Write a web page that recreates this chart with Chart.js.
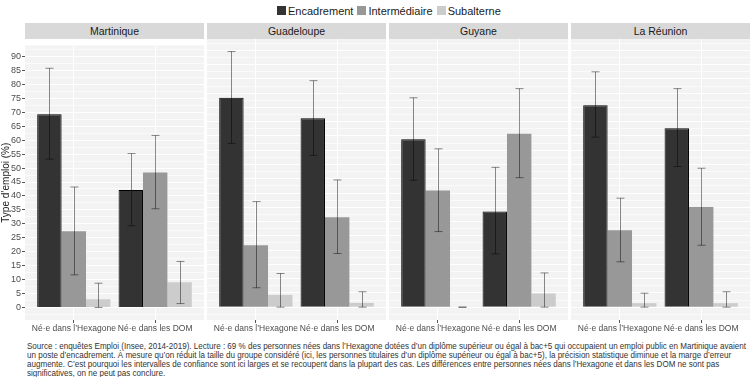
<!DOCTYPE html>
<html lang="fr">
<head>
<meta charset="utf-8">
<title>Type d'emploi</title>
<script src="https://cdn.jsdelivr.net/npm/chart.js@4.4.1/dist/chart.umd.min.js"></script>
<style>
body { margin:0; width:754px; height:377px; background:#fff; position:relative; overflow:hidden;
       font-family:"Liberation Sans", Arial, sans-serif; }
.legend { position:absolute; top:5px; left:277px; display:flex; font-size:11px; color:#1a1a1a; line-height:12px; }
.legend span.box { display:inline-block; width:9px; height:9px; margin:1px 2px 0 0; }
.legend .item { display:flex; margin-right:4px; }
.strip { position:absolute; top:23px; height:16px; width:179px; background:#d9d9d9; text-align:center;
         font-size:10.5px; line-height:16px; color:#1a1a1a; }
.panel { position:absolute; top:39px; height:296px; }
.caption { position:absolute; left:27px; top:342px; font-family:"Liberation Sans Narrow", "Liberation Sans", Arial, sans-serif;
           font-size:8.6px; line-height:9.1px; color:#333; white-space:nowrap; transform-origin:0 0; }
</style>
</head>
<body>
<div class="legend" id="legend"></div>
<div id="strips"></div>
<div id="panels"></div>
<div class="caption" id="caption">Source : enquêtes Emploi (Insee, 2014-2019). Lecture : 69 % des personnes nées dans l’Hexagone dotées d’un diplôme supérieur ou égal à bac+5 qui occupaient un emploi public en Martinique avaient<br>un poste d’encadrement. À mesure qu’on réduit la taille du groupe considéré (ici, les personnes titulaires d’un diplôme supérieur ou égal à bac+5), la précision statistique diminue et la marge d’erreur<br>augmente. C’est pourquoi les intervalles de confiance sont ici larges et se recoupent dans la plupart des cas. Les différences entre personnes nées dans l’Hexagone et dans les DOM ne sont pas<br>significatives, on ne peut pas conclure.</div>
<script>
var regions = ['Martinique', 'Guadeloupe', 'Guyane', 'La Réunion'];
var categories = ['Né·e dans l’Hexagone', 'Né·e dans les DOM'];
var series = ['Encadrement', 'Intermédiaire', 'Subalterne'];
var yTicks = [0, 5, 10, 15, 20, 25, 30, 35, 40, 45, 50, 55, 60, 65, 70, 75, 80, 85, 90];

// order: Hexagone (Enc, Int, Sub), then DOM (Enc, Int, Sub)
var martiniqueVal  = [69.3, 27.3, 2.9, 42.1, 48.4, 9.0];
var martiniqueLow  = [53.2, 11.7, 0.0, 29.3, 35.4, 1.4];
var martiniqueHigh = [85.8, 43.2, 8.7, 55.2, 61.7, 16.5];

var guadeloupeVal  = [73.4, 21.7, 4.3, 66.2, 31.5, 1.5];
var guadeloupeLow  = [57.4, 6.8, 0.0, 53.2, 18.8, 0.0];
var guadeloupeHigh = [89.6, 37.0, 11.8, 79.4, 44.6, 5.4];

var guyaneVal  = [58.9, 40.9, 0.0, 33.5, 60.8, 4.8];
var guyaneLow  = [44.5, 26.5, 0.0, 18.7, 45.4, 0.0];
var guyaneHigh = [73.4, 55.5, 0.0, 49.0, 76.6, 12.0];

var reunionVal  = [70.8, 27.0, 1.4, 62.7, 35.1, 1.4];
var reunionLow  = [59.6, 15.9, 0.0, 49.3, 21.7, 0.0];
var reunionHigh = [82.5, 38.2, 4.9, 76.6, 48.7, 5.4];

var colors = ['#333333', '#989898', '#cccccc'];
var panelData = [
    [martiniqueVal, martiniqueLow, martiniqueHigh],
    [guadeloupeVal, guadeloupeLow, guadeloupeHigh],
    [guyaneVal, guyaneLow, guyaneHigh],
    [reunionVal, reunionLow, reunionHigh]
];
var panelLeft = [25, 207, 389, 571];

// legend
var legend = document.getElementById('legend');
series.forEach(function(s, i){
    var item = document.createElement('div');
    item.className = 'item';
    item.innerHTML = '<span class="box" style="background:' + colors[i] + '"></span>' + s;
    legend.appendChild(item);
});

// squeeze the caption to the width of the reference (narrow font)
var caption = document.getElementById('caption');
caption.style.transform = 'scaleX(' + (719 / caption.offsetWidth) + ')';

// panel background
var panelBg = {
    id: 'panelBg',
    beforeDraw: function(chart){
        var a = chart.chartArea, ctx = chart.ctx;
        ctx.save();
        ctx.fillStyle = '#f3f3f3';
        ctx.fillRect(a.left, a.top, a.right - a.left, a.bottom - a.top);
        ctx.restore();
    }
};

// error bars
var errorBars = {
    id: 'errorBars',
    afterDatasetsDraw: function(chart){
        var ctx = chart.ctx, y = chart.scales.y;
        ctx.save();
        ctx.strokeStyle = 'rgba(0,0,0,0.45)';
        ctx.lineWidth = 1;
        chart.data.datasets.forEach(function(ds, di){
            var meta = chart.getDatasetMeta(di);
            meta.data.forEach(function(bar, i){
                var lo = y.getPixelForValue(ds.low[i]);
                var hi = y.getPixelForValue(ds.high[i]);
                var x = Math.round(bar.x) + 0.5;
                ctx.beginPath();
                ctx.moveTo(x, lo); ctx.lineTo(x, hi);
                ctx.moveTo(x - 4, lo); ctx.lineTo(x + 4, lo);
                ctx.moveTo(x - 4, hi); ctx.lineTo(x + 4, hi);
                ctx.stroke();
            });
        });
        ctx.restore();
    }
};

var strips = document.getElementById('strips');
var panels = document.getElementById('panels');

regions.forEach(function(region, p){
    var strip = document.createElement('div');
    strip.className = 'strip';
    strip.style.left = panelLeft[p] + 'px';
    strip.textContent = region;
    strips.appendChild(strip);

    var first = p === 0;
    var left = first ? 0 : panelLeft[p];
    var width = first ? panelLeft[0] + 179 : 179;
    var box = document.createElement('div');
    box.className = 'panel';
    box.style.left = left + 'px';
    box.style.width = width + 'px';
    var canvas = document.createElement('canvas');
    canvas.width = width;
    canvas.height = 296;
    box.appendChild(canvas);
    panels.appendChild(box);

    var vals = panelData[p][0], lows = panelData[p][1], highs = panelData[p][2];
    var datasets = series.map(function(s, si){
        return {
            label: s,
            data: categories.map(function(c, ci){ return {x: ci + 1, y: vals[ci * 3 + si]}; }),
            low: categories.map(function(c, ci){ return lows[ci * 3 + si]; }),
            high: categories.map(function(c, ci){ return highs[ci * 3 + si]; }),
            backgroundColor: colors[si],
            borderColor: si === 0 ? '#000' : colors[si],
            borderWidth: si === 0 ? 1 : 0,
            barPercentage: 1,
            categoryPercentage: 0.9
        };
    });

    new Chart(canvas.getContext('2d'), {
        type: 'bar',
        data: { datasets: datasets },
        plugins: [panelBg, errorBars],
        options: {
            responsive: false,
            animation: false,
            layout: { padding: 0 },
            plugins: { legend: { display: false }, tooltip: { enabled: false } },
            scales: {
                x: {
                    type: 'linear',
                    min: 0.4, max: 2.6,
                    offset: false,
                    afterBuildTicks: function(s){ s.ticks = categories.map(function(c, i){ return {value: i + 1}; }); },
                    afterFit: function(s){ s.height = 15; },
                    ticks: {
                        callback: function(v){ return categories[v - 1]; },
                        font: { family: 'Liberation Sans', size: 8.5 },
                        color: '#4d4d4d',
                        padding: 1,
                        maxRotation: 0,
                        autoSkip: false
                    },
                    grid: { color: '#ffffff', lineWidth: 1, offset: false, tickLength: 3, tickColor: '#555' },
                    border: { display: false }
                },
                y: {
                    min: -4.5, max: 94,
                    afterBuildTicks: function(s){
                        var t = [];
                        for (var v = -2.5; v <= 92.5; v += 2.5) t.push({value: v});
                        s.ticks = t;
                    },
                    afterFit: function(s){ s.width = first ? 25 : 0; },
                    ticks: {
                        display: first,
                        autoSkip: false,
                        callback: function(v){ return yTicks.indexOf(v) >= 0 ? String(v) : ''; },
                        font: { family: 'Liberation Sans', size: 9 },
                        color: '#4d4d4d',
                        padding: 1
                    },
                    title: {
                        display: first,
                        text: 'Type d\u2019emploi (%)',
                        font: { family: 'Liberation Sans', size: 10 },
                        color: '#1a1a1a',
                        padding: { top: 0, bottom: 0 }
                    },
                    grid: {
                        drawTicks: first,
                        tickLength: 3,
                        color: function(c){ return yTicks.indexOf(c.tick.value) >= 0 ? '#ffffff' : 'rgba(255,255,255,0.55)'; },
                        tickColor: function(c){ return yTicks.indexOf(c.tick.value) >= 0 ? '#555' : 'rgba(0,0,0,0)'; },
                        lineWidth: 1
                    },
                    border: { display: false }
                }
            }
        }
    });
});
</script>
</body>
</html>
